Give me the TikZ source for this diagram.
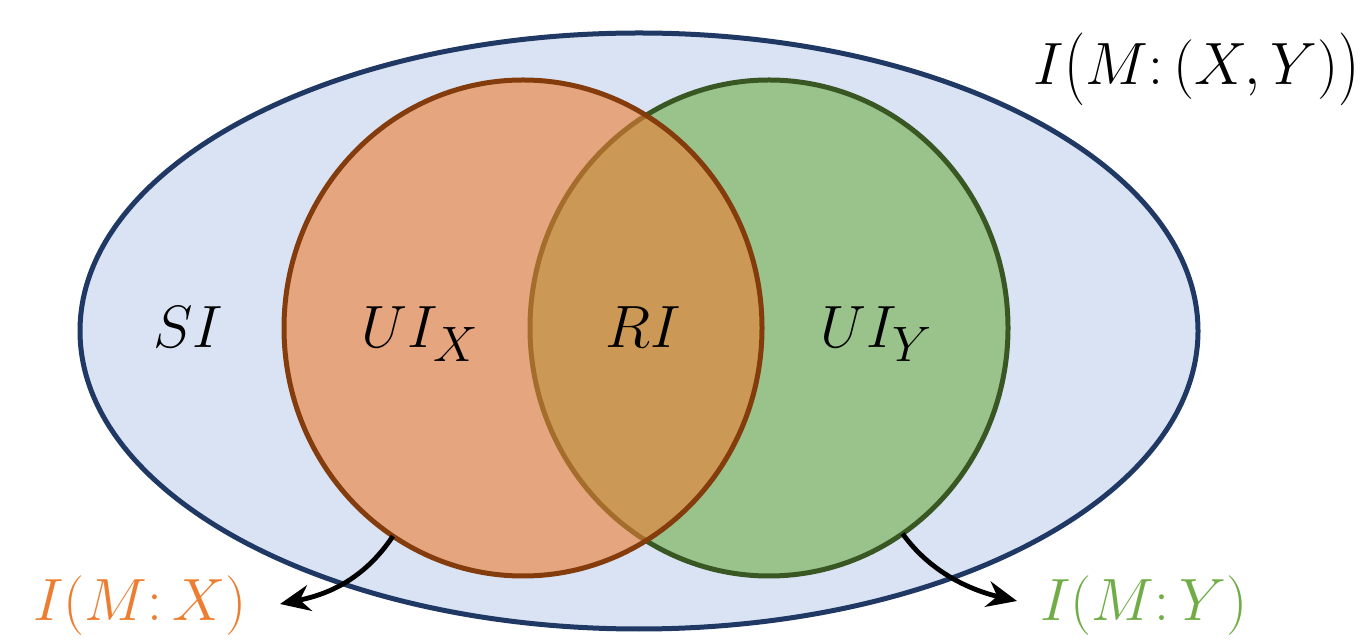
\documentclass[tikz,border=0pt]{standalone}
\usepackage{graphicx}
\usepackage{amsmath}
\usetikzlibrary{shapes.geometric,arrows.meta}
\definecolor{bgfill}{HTML}{DAE3F3}
\definecolor{bgline}{HTML}{203864}
\definecolor{orfill}{HTML}{ED7D31}
\definecolor{orline}{HTML}{843C0C}
\definecolor{grfill}{HTML}{70AD47}
\definecolor{grline}{HTML}{385723}
\newcommand{\bigmath}[1]{\scalebox{1.2}{\Huge$#1$}}
% slightly taller outer parentheses
\newcommand{\tallopen}{\mathopen{\raisebox{-0.05em}{\scalebox{1}[1.22]{$($}}}}
\newcommand{\tallclose}{\mathclose{\raisebox{-0.05em}{\scalebox{1}[1.22]{$)$}}}}
\tikzset{
  setshape/.style={ellipse, inner sep=0pt, outer sep=0pt, line width=2.5pt},
  lbl/.style={anchor=base, inner sep=0pt},
  arr/.style={line width=2.4pt, -{Stealth[length=15pt,width=13pt]}}
}
\begin{document}
\begin{tikzpicture}[x=0.5pt,y=-0.5pt]
\useasboundingbox (0,0) rectangle (1365,640);
% outer set: joint information
\node[setshape, draw=bgline, fill=bgfill, minimum width=559pt, minimum height=298pt] (all) at (639,331) {};
% the two single-source sets
\node[setshape, draw=grline, fill=grfill, fill opacity=0.6, minimum width=239pt, minimum height=248pt] (green) at (769,328) {};
\node[setshape, draw=orline, fill=orfill, fill opacity=0.6, minimum width=239pt, minimum height=248pt] (orange) at (523,328) {};
% region labels
\node[lbl] (si) at (188,348) {\bigmath{SI}};
\node[lbl] (uix) at (420,348) {\bigmath{UI_X}};
\node[lbl] (ri) at (643,348) {\bigmath{RI}};
\node[lbl] (uiy) at (877,348) {\bigmath{UI_Y}};
% set labels
\node[lbl, anchor=base east] (top) at (1360,85) {\bigmath{I\tallopen M{:}\,(X,Y)\tallclose}};
\node[lbl, text=orfill] (mx) at (140,620) {\bigmath{I(M{:}\,X)}};
\node[lbl, text=grfill] (my) at (1144,620) {\bigmath{I(M{:}\,Y)}};
% pointers
\coordinate (lx) at (280,604);
\coordinate (ly) at (1017,601);
\draw[arr] (orange.238) .. controls (365,578) and (330,594) .. (lx);
\draw[arr] (green.-57) .. controls (930,572) and (970,590) .. (ly);
\end{tikzpicture}
\end{document}
